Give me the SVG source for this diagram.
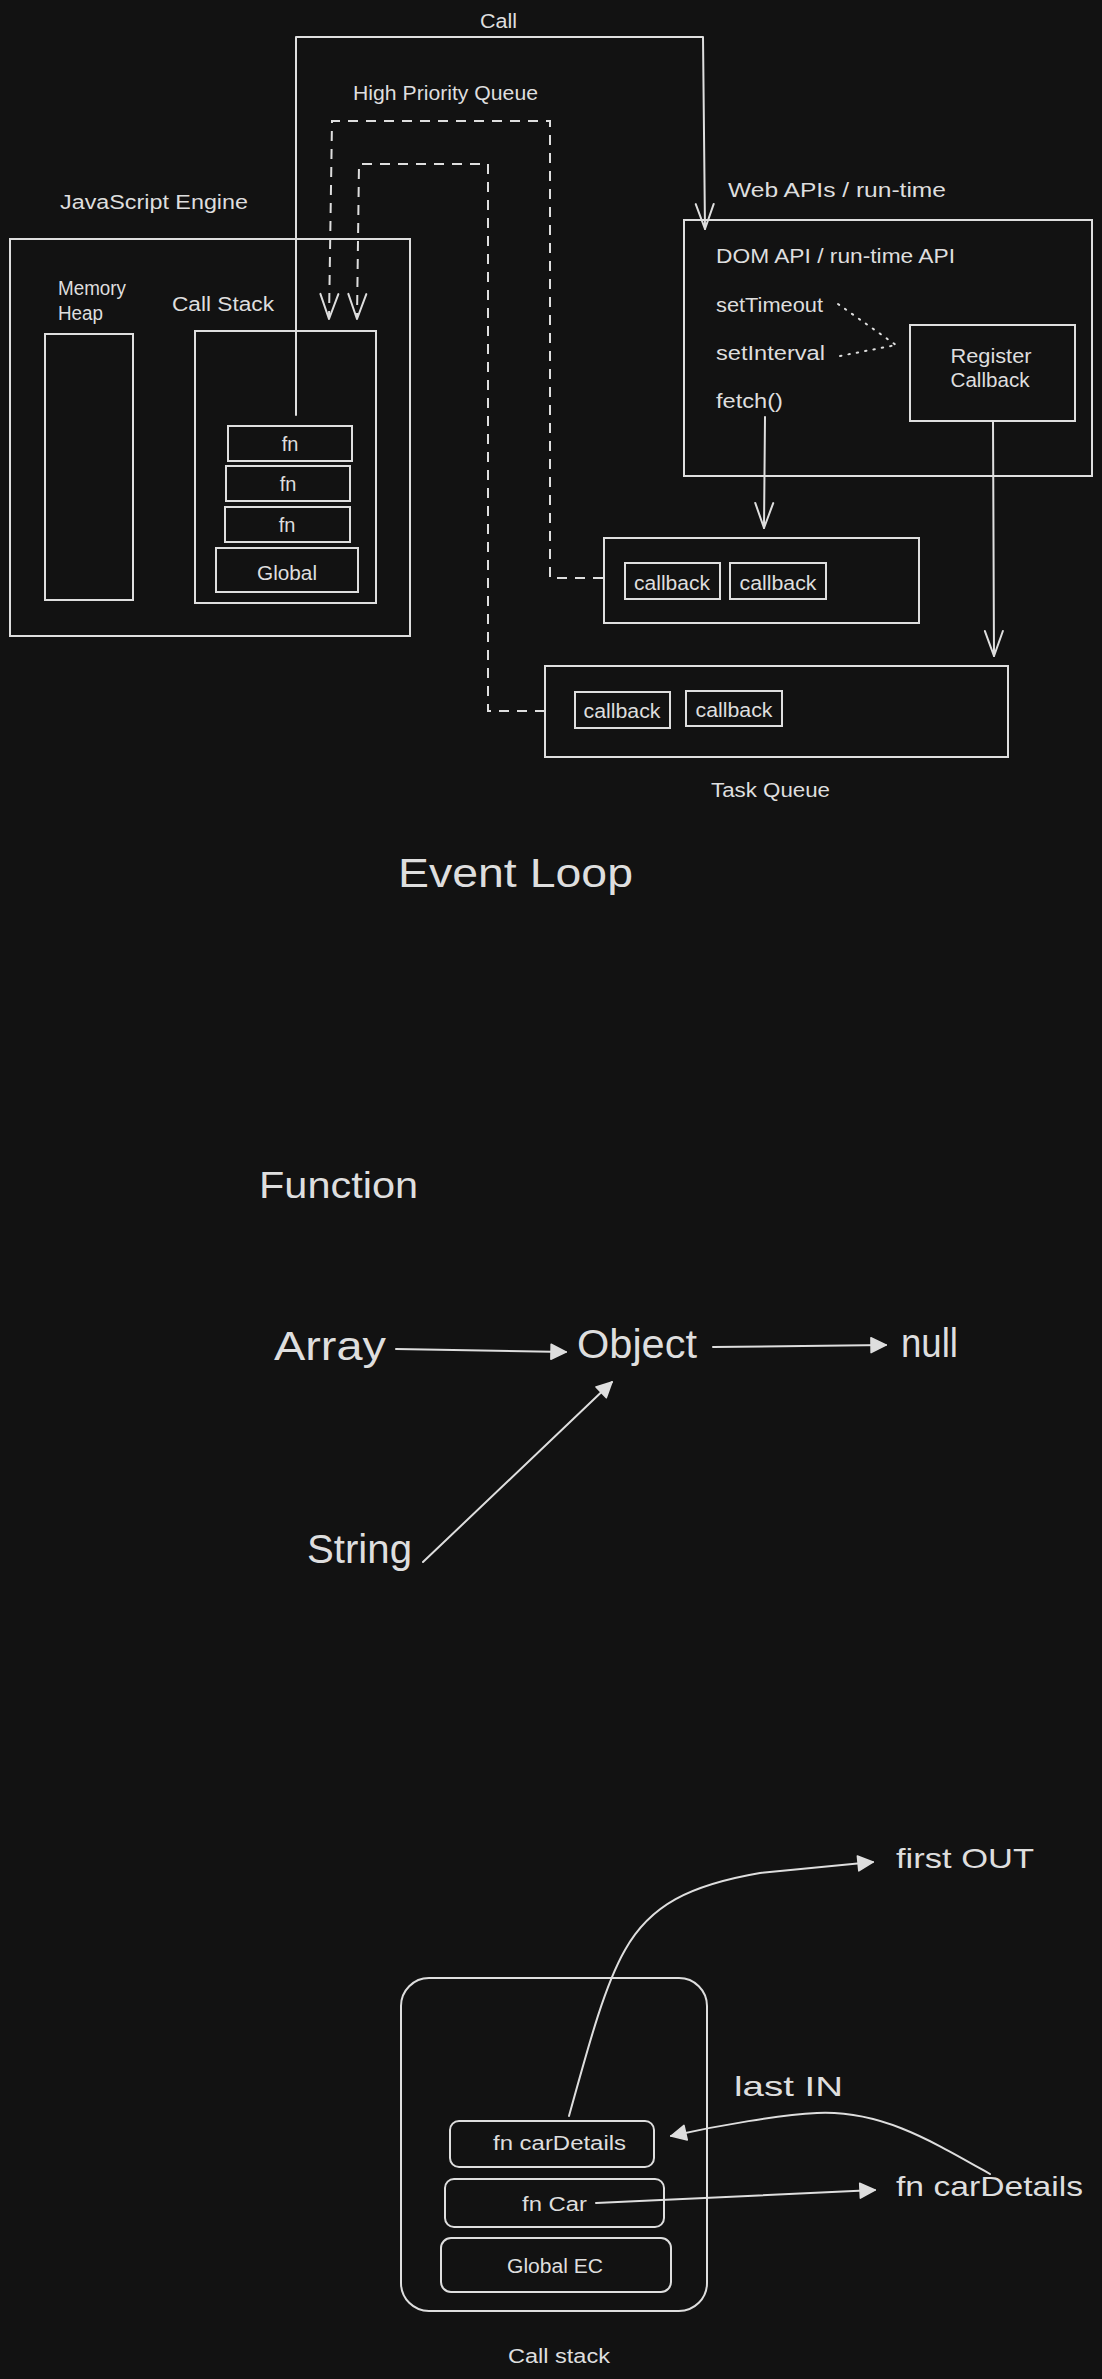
<svg xmlns="http://www.w3.org/2000/svg" width="1102" height="2379" viewBox="0 0 1102 2379">
<style>
.bx{fill:none;stroke:#dedede;stroke-width:2}
.ln{fill:none;stroke:#dedede;stroke-width:2;stroke-linecap:round;stroke-linejoin:round}
.dash{fill:none;stroke:#dedede;stroke-width:2;stroke-dasharray:10 8}
.dot{fill:none;stroke:#dedede;stroke-width:2;stroke-dasharray:1.5 7;stroke-linecap:round}
.mk{fill:none;stroke:#dedede;stroke-width:2;stroke-dasharray:none;stroke-linecap:round;stroke-linejoin:round}
.mt{fill:#dedede;stroke:#dedede;stroke-width:1.5;stroke-dasharray:none;stroke-linejoin:round}
text{fill:#dedede;font-family:"Liberation Sans",Arial,sans-serif}
.t20{font-size:20px}
.t28{font-size:28px}
.t40{font-size:40px}
</style>
<defs>
<marker id="open" markerUnits="userSpaceOnUse" viewBox="-30 -12 34 24" refX="0" refY="0" markerWidth="34" markerHeight="24" orient="auto" overflow="visible">
<path class="mk" d="M-25,-9 L0,0 L-25,9"/>
</marker>
<marker id="tri" markerUnits="userSpaceOnUse" viewBox="-20 -10 22 20" refX="0" refY="0" markerWidth="22" markerHeight="20" orient="auto" overflow="visible">
<path class="mt" d="M-15,-7.5 L0,0 L-15,7.5 Z"/>
</marker>
</defs>
<rect width="1102" height="2379" fill="#121212"/>

<g id="connectors">
<path class="ln" d="M296,415 L296,37 L703,37 L705,229" marker-end="url(#open)"/>
<path class="dash" d="M603,578 L550,578 L550,121 L332,121 L329,319" marker-end="url(#open)"/>
<path class="dash" d="M545,711 L488,711 L488,164 L359,164 L357,319" marker-end="url(#open)"/>
<path class="dot" d="M838,304 L896,345"/>
<path class="dot" d="M840,356 L896,345"/>
<path class="ln" d="M765,417 L764,528" marker-end="url(#open)"/>
<path class="ln" d="M993,421 L994,656" marker-end="url(#open)"/>
<path class="ln" d="M396,1349 L566,1352" marker-end="url(#tri)"/>
<path class="ln" d="M713,1347 L886,1345" marker-end="url(#tri)"/>
<path class="ln" d="M423,1562 L612,1382" marker-end="url(#tri)"/>
<path class="ln" d="M569,2116 C590,2040 605,1985 625,1950 C650,1905 690,1885 760,1873 L873,1862" marker-end="url(#tri)"/>
<path class="ln" d="M990,2174 C930,2140 880,2110 817,2113 C780,2115 720,2125 671,2136" marker-end="url(#tri)"/>
<path class="ln" d="M596,2203 L875,2190" marker-end="url(#tri)"/>
</g>

<g id="labels">
<text class="t20" x="480" y="28" textLength="37" lengthAdjust="spacingAndGlyphs">Call</text>
<text class="t20" x="353" y="100" textLength="185" lengthAdjust="spacingAndGlyphs">High Priority Queue</text>
<text class="t40" x="398" y="887" textLength="235" lengthAdjust="spacingAndGlyphs">Event Loop</text>
</g>

<g id="js-engine">
<rect class="bx" x="10" y="239" width="400" height="397"/>
<text class="t20" x="60" y="209" textLength="188" lengthAdjust="spacingAndGlyphs">JavaScript Engine</text>
</g>
<g id="memory-heap">
<rect class="bx" x="45" y="334" width="88" height="266"/>
<text class="t20" x="58" y="295" textLength="68" lengthAdjust="spacingAndGlyphs">Memory</text>
<text class="t20" x="58" y="320" textLength="45" lengthAdjust="spacingAndGlyphs">Heap</text>
</g>
<g id="call-stack">
<rect class="bx" x="195" y="331" width="181" height="272"/>
<text class="t20" x="172" y="311" textLength="102" lengthAdjust="spacingAndGlyphs">Call Stack</text>
</g>
<g id="fn1">
<rect class="bx" x="228" y="426" width="124" height="35"/>
<text class="t20" x="290" y="451" text-anchor="middle">fn</text>
</g>
<g id="fn2">
<rect class="bx" x="226" y="466" width="124" height="35"/>
<text class="t20" x="288" y="491" text-anchor="middle">fn</text>
</g>
<g id="fn3">
<rect class="bx" x="225" y="507" width="125" height="35"/>
<text class="t20" x="287" y="532" text-anchor="middle">fn</text>
</g>
<g id="global">
<rect class="bx" x="216" y="548" width="142" height="44"/>
<text class="t20" x="287" y="580" text-anchor="middle" textLength="60" lengthAdjust="spacingAndGlyphs">Global</text>
</g>

<g id="web-apis">
<rect class="bx" x="684" y="220" width="408" height="256"/>
<text class="t20" x="728" y="197" textLength="218" lengthAdjust="spacingAndGlyphs">Web APIs / run-time</text>
<text class="t20" x="716" y="263" textLength="239" lengthAdjust="spacingAndGlyphs">DOM API / run-time API</text>
</g>
<g id="setTimeout"><text class="t20" x="716" y="312" textLength="107" lengthAdjust="spacingAndGlyphs">setTimeout</text></g>
<g id="setInterval"><text class="t20" x="716" y="360" textLength="109" lengthAdjust="spacingAndGlyphs">setInterval</text></g>
<g id="fetch"><text class="t20" x="716" y="408" textLength="67" lengthAdjust="spacingAndGlyphs">fetch()</text></g>
<g id="register-callback">
<rect class="bx" x="910" y="325" width="165" height="96"/>
<text class="t20" x="991" y="363" text-anchor="middle" textLength="81" lengthAdjust="spacingAndGlyphs">Register</text>
<text class="t20" x="990" y="387" text-anchor="middle" textLength="79" lengthAdjust="spacingAndGlyphs">Callback</text>
</g>

<g id="high-priority-queue">
<rect class="bx" x="604" y="538" width="315" height="85"/>
</g>
<g id="hp-callback1">
<rect class="bx" x="625" y="563" width="95" height="36"/>
<text class="t20" x="672" y="590" text-anchor="middle" textLength="76" lengthAdjust="spacingAndGlyphs">callback</text>
</g>
<g id="hp-callback2">
<rect class="bx" x="730" y="563" width="96" height="36"/>
<text class="t20" x="778" y="590" text-anchor="middle" textLength="77" lengthAdjust="spacingAndGlyphs">callback</text>
</g>
<g id="task-queue">
<rect class="bx" x="545" y="666" width="463" height="91"/>
<text class="t20" x="711" y="797" textLength="119" lengthAdjust="spacingAndGlyphs">Task Queue</text>
</g>
<g id="tq-callback1">
<rect class="bx" x="575" y="692" width="95" height="36"/>
<text class="t20" x="622" y="718" text-anchor="middle" textLength="77" lengthAdjust="spacingAndGlyphs">callback</text>
</g>
<g id="tq-callback2">
<rect class="bx" x="686" y="691" width="96" height="35"/>
<text class="t20" x="734" y="717" text-anchor="middle" textLength="77" lengthAdjust="spacingAndGlyphs">callback</text>
</g>

<g id="function"><text class="t40" x="259" y="1198" style="font-size:36px" textLength="159" lengthAdjust="spacingAndGlyphs">Function</text></g>
<g id="array"><text class="t40" x="274" y="1360" textLength="112" lengthAdjust="spacingAndGlyphs">Array</text></g>
<g id="object"><text class="t40" x="577" y="1358" textLength="120" lengthAdjust="spacingAndGlyphs">Object</text></g>
<g id="null"><text class="t40" x="901" y="1357" textLength="57" lengthAdjust="spacingAndGlyphs">null</text></g>
<g id="string"><text class="t40" x="307" y="1563" textLength="105" lengthAdjust="spacingAndGlyphs">String</text></g>

<g id="stack-box">
<rect class="bx" x="401" y="1978" width="306" height="333" rx="28"/>
<text class="t20" x="508" y="2363" textLength="102" lengthAdjust="spacingAndGlyphs">Call stack</text>
</g>
<g id="fn-carDetails">
<rect class="bx" x="450" y="2121" width="204" height="46" rx="9"/>
<text class="t20" x="493" y="2150" textLength="133" lengthAdjust="spacingAndGlyphs">fn carDetails</text>
</g>
<g id="fn-car">
<rect class="bx" x="445" y="2179" width="219" height="48" rx="9"/>
<text class="t20" x="522" y="2211" textLength="65" lengthAdjust="spacingAndGlyphs">fn Car</text>
</g>
<g id="global-ec">
<rect class="bx" x="441" y="2238" width="230" height="54" rx="10"/>
<text class="t20" x="507" y="2273" textLength="96" lengthAdjust="spacingAndGlyphs">Global EC</text>
</g>
<g id="first-out"><text class="t28" x="896" y="1868" textLength="138" lengthAdjust="spacingAndGlyphs">first OUT</text></g>
<g id="last-in"><text class="t28" x="734" y="2096" textLength="109" lengthAdjust="spacingAndGlyphs">last IN</text></g>
<g id="fn-carDetails-out"><text class="t28" x="896" y="2196" textLength="187" lengthAdjust="spacingAndGlyphs">fn carDetails</text></g>
</svg>
